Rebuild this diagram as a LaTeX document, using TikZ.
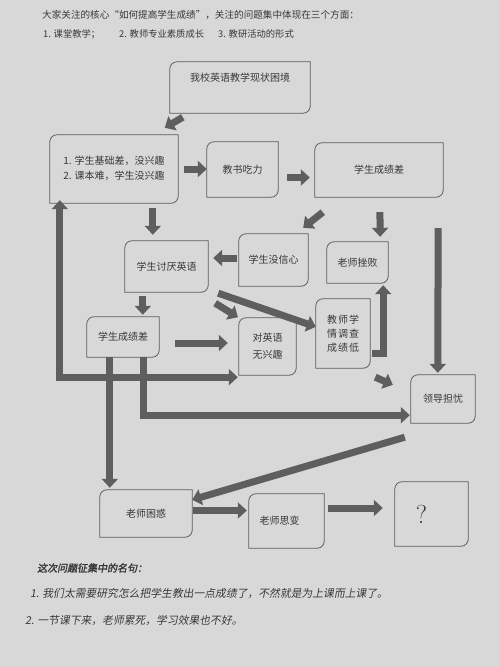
\documentclass[tikz,border=0pt]{standalone}
\usepackage{fontspec}
\newfontfamily\cjk{Noto Sans CJK SC}
\newfontfamily\cjkit[FakeSlant=0.18]{Noto Sans CJK SC}
\newfontfamily\cjkbi[FakeSlant=0.18,FakeBold=2]{Noto Sans CJK SC}
\usetikzlibrary{arrows.meta,calc}
\definecolor{paper}{HTML}{D8D8D8}
\definecolor{boxline}{HTML}{5C5C5C}
\definecolor{arrowc}{HTML}{5E5E5E}
\definecolor{ink}{HTML}{383838}
\tikzset{
  boxnode/.style={draw=none, inner sep=0pt, align=center, text=ink,
    font=\cjk\fontsize{10}{14}\selectfont},
  boxborder/.style={draw=boxline, line width=0.8pt},
  barrow/.style={draw=arrowc, line width=7pt,
    -{Triangle[length=9pt,width=16pt]}},
  barrowboth/.style={draw=arrowc, line width=7pt,
    {Triangle[length=9pt,width=16pt]}-{Triangle[length=9pt,width=16pt]}},
  plaintext/.style={anchor=west, inner sep=0pt, text=ink}
}
% name x1 y1 x2 y2 text
\newcommand\placebox[6]{%
  \node[boxnode, minimum width={(#4-#2)*1pt}, minimum height={(#5-#3)*1pt}]
    (#1) at ({(#2+#4)/2},{(#3+#5)/2}) {#6};
  \draw[boxborder] ([yshift=-7pt]#1.north west) arc[start angle=180,end angle=90,radius=7pt]
    -- (#1.north east) -- ([yshift=7pt]#1.south east)
    arc[start angle=0,end angle=-90,radius=7pt] -- (#1.south west) -- cycle;}
\begin{document}
\begin{tikzpicture}[x=1pt,y=-1pt]
\fill[paper] (0,0) rectangle (500,667);
\useasboundingbox (0,0) rectangle (500,667);

% header text
\node[plaintext, font=\cjk\fontsize{9.6}{12}\selectfont] (h1) at (42,15)
  {大家关注的核心“如何提高学生成绩”，关注的问题集中体现在三个方面：};
\node[plaintext, font=\cjk\fontsize{9.3}{12}\selectfont] (h2a) at (43,34) {1. 课堂教学；};
\node[plaintext, font=\cjk\fontsize{9.3}{12}\selectfont] (h2b) at (119,34) {2. 教师专业素质成长};
\node[plaintext, font=\cjk\fontsize{9.3}{12}\selectfont] (h2c) at (218,34) {3. 教研活动的形式};

% boxes
\placebox{top}{170}{62}{310}{113}{\raisebox{6pt}[0pt][0pt]{我校英语教学现状困境}}
\placebox{b1}{50}{135}{178}{203}{\begin{tabular}{@{}l@{}}1. 学生基础差，没兴趣\\[1pt]2. 课本难，学生没兴趣\end{tabular}}
\placebox{jiao}{207}{142}{278}{197}{教书吃力}
\placebox{cj1}{315}{143}{443}{197}{学生成绩差}
\placebox{taoyan}{125}{241}{208}{292}{学生讨厌英语}
\placebox{xinxin}{239}{234}{308}{286}{学生没信心}
\placebox{cuobai}{327}{242}{388}{283}{老师挫败}
\placebox{cj2}{87}{317}{159}{357}{学生成绩差}
\placebox{wuxq}{239}{318}{296}{375}{对英语\\[3pt]无兴趣}
\placebox{diaocha}{316}{299}{370}{368}{\makebox[32pt][s]{教\hfill 师\hfill 学}\\\makebox[32pt][s]{情\hfill 调\hfill 查}\\\makebox[32pt][s]{成\hfill 绩\hfill 低}}
\placebox{lingdao}{411}{375}{475}{423}{领导担忧}
\placebox{kunhuo}{100}{490}{192}{537}{老师困惑}
\placebox{sibian}{249}{494}{324}{548}{\hspace*{-14pt}老师思变}
\placebox{q}{395}{482}{468}{546}{\hspace*{-20pt}\normalfont\fontsize{26}{26}\selectfont ?}

% helper coordinates
\coordinate (p3) at ($(jiao.east)+(0,8)$);
\coordinate (p7) at ($(xinxin.west)+(0,-2)$);
\coordinate (p10) at ($(cj2.east)+(0,6)$);
\coordinate (p19) at ($(kunhuo.east)+(0,-3)$);
\coordinate (p20) at ($(sibian.east)+(0,-13)$);

% connectors
\draw[barrow] ($(top.south west)+(13,4)$) -- ($(b1.north west)+(115,-7)$);
\draw[barrow, shorten <=6pt] (b1.east) -- (b1.east -| jiao.west);
\draw[barrow, shorten <=9pt, shorten >=5pt] (p3) -- (p3 -| cj1.west);
\draw[barrow] ($(cj1.south west)+(8,15)$) -- ($(xinxin.north east)+(-5,-6)$);
\draw[barrow, shorten <=15pt, shorten >=5pt] ($(cj1.south west)+(65,0)$) -- ($(cuobai.north east)+(-8,0)$);
\draw[barrow, shorten <=31pt, shorten >=2pt] ($(cj1.south east)+(-5,0)$) -- ($(lingdao.north west)+(27,0)$);
\draw[barrow, shorten <=2pt, shorten >=5pt] (p7) -- (p7 -| taoyan.east);
\draw[barrow, shorten <=5pt, shorten >=6pt] ($(b1.south west)+(103,0)$) -- ($(taoyan.north west)+(28,0)$);
\draw[barrow, shorten <=4pt, shorten >=2pt] ($(taoyan.south west)+(18,0)$) -- ($(cj2.north west)+(56,0)$);
\draw[barrow, shorten <=16pt, shorten >=11pt] (p10) -- (p10 -| wuxq.west);
\draw[barrow, shorten >=1pt] ($(taoyan.south east)+(7,11)$) -- (wuxq.north west);
\draw[barrow] ($(taoyan.south east)+(10,1)$) -- ($(diaocha.north west)+(0,28)$);
\draw[barrow] ($(diaocha.south east)+(2,-15)$) -| ($(cuobai.south east)+(-5,2)$);
\draw[barrow] ($(diaocha.south east)+(5,9)$) -- ($(lingdao.north west)+(-18,10)$);
\draw[barrowboth] ($(wuxq.south west)+(-1,2)$) -| ($(b1.south west)+(10,-3)$);
\draw[barrow, shorten >=2pt] ($(cj2.south west)+(23,0)$) -- ($(kunhuo.north west)+(10,0)$);
\draw[barrow, shorten >=1pt] ($(cj2.south east)+(-16,0)$) |- ($(lingdao.south west)+(0,-8)$);
\draw[barrow] ($(lingdao.south west)+(-6,14)$) -- ($(kunhuo.north east)+(0,10)$);
\draw[barrow, shorten <=1pt, shorten >=2pt] (p19) -- (p19 -| sibian.west);
\draw[barrow, shorten <=4pt, shorten >=12pt] (p20) -- (p20 -| q.west);

% footer text
\node[plaintext, font=\cjkbi\fontsize{10}{12}\selectfont] (f0) at (37,568) {这次问题征集中的名句：};
\node[plaintext, font=\cjkit\fontsize{10.8}{13}\selectfont] (f1) at (30,593)
  {1. 我们太需要研究怎么把学生教出一点成绩了，不然就是为上课而上课了。};
\node[plaintext, font=\cjkit\fontsize{10.8}{13}\selectfont] (f2) at (25,620)
  {2. 一节课下来，老师累死，学习效果也不好。};
\end{tikzpicture}
\end{document}
